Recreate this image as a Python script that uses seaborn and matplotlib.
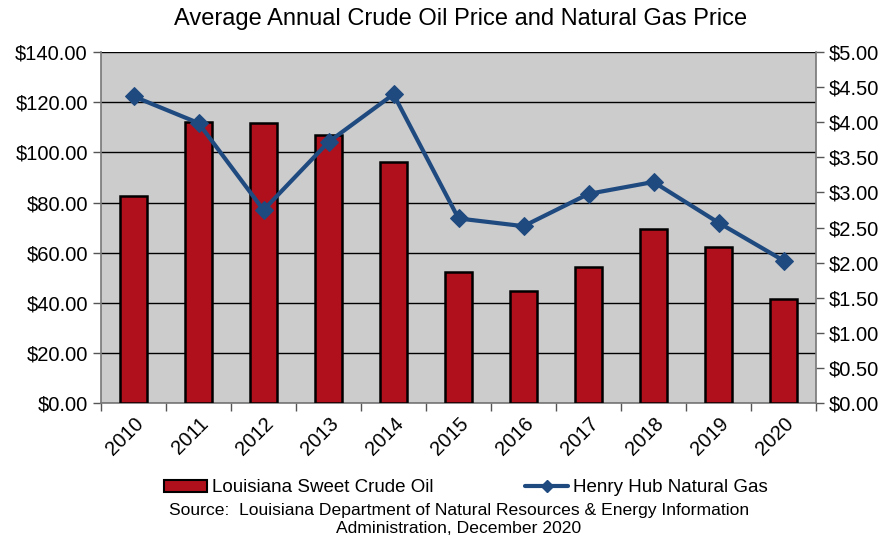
import matplotlib
matplotlib.use("Agg")
import matplotlib.pyplot as plt
import numpy as np
import pandas as pd
import seaborn as sns
from matplotlib.lines import Line2D
from matplotlib.patches import Patch
from matplotlib.ticker import FuncFormatter, MultipleLocator

# data
years = ["2010", "2011", "2012", "2013", "2014", "2015", "2016", "2017", "2018", "2019", "2020"]
crude_oil = [82.6, 112.2, 111.6, 106.9, 96.3, 52.4, 44.8, 54.1, 69.4, 62.4, 41.6]
natural_gas = [4.37, 3.99, 2.75, 3.72, 4.40, 2.63, 2.52, 2.98, 3.15, 2.57, 2.03]

df = pd.DataFrame({"year": years, "oil": crude_oil, "gas": natural_gas})

sns.set_theme(style="white")
plt.rcParams["font.family"] = ["Liberation Sans", "DejaVu Sans"]
plt.rcParams["text.color"] = "black"
plt.rcParams["xtick.color"] = "black"
plt.rcParams["ytick.color"] = "black"

bar_color = "#B0101C"
line_color = "#1F4A80"
money = FuncFormatter(lambda v, p: f"${v:,.2f}")

fig = plt.figure(figsize=(8.86, 5.38), dpi=100)
ax = fig.add_axes([0.114, 0.251, 0.807, 0.652])
ax.set_facecolor("#CCCCCC")

sns.barplot(data=df, x="year", y="oil", color=bar_color, edgecolor="black",
            linewidth=1.8, width=0.42, saturation=1, ax=ax, zorder=3)

ax.set_ylim(0, 140)
ax.set_xlim(-0.5, len(years) - 0.5)
ax.yaxis.set_major_locator(MultipleLocator(20))
ax.yaxis.set_major_formatter(money)
ax.grid(axis="y", color="black", linewidth=1.0, zorder=0)
ax.set_axisbelow(True)
ax.set_xlabel("")
ax.set_ylabel("")

# category boundary ticks like the original
ax.set_xticks(np.arange(-0.5, len(years), 1.0), minor=True)
ax.tick_params(axis="x", which="minor", length=6, width=1, color="#555555", direction="out", bottom=True)
ax.tick_params(axis="x", which="major", length=0, labelsize=14.5, pad=8, labelcolor="black")
ax.tick_params(axis="y", length=6, width=1, color="#555555", direction="out", left=True,
               labelsize=14.5, labelcolor="black")
for lbl in ax.get_xticklabels():
    lbl.set_rotation(45)
    lbl.set_ha("right")
    lbl.set_rotation_mode("anchor")

for side in ["top", "right"]:
    ax.spines[side].set_visible(False)
for side in ["left", "bottom"]:
    ax.spines[side].set_color("#777777")
    ax.spines[side].set_linewidth(1.2)

ax2 = ax.twinx()
sns.lineplot(x=np.arange(len(years)), y=df["gas"], color=line_color, linewidth=3,
             marker="D", markersize=9, markeredgecolor=line_color, ax=ax2, zorder=5)
ax2.set_ylim(0, 5)
ax2.yaxis.set_major_locator(MultipleLocator(0.5))
ax2.yaxis.set_major_formatter(money)
ax2.tick_params(axis="y", length=6, width=1, color="#555555", direction="out", right=True,
                labelsize=14.5, labelcolor="black")
ax2.set_ylabel("")
for side in ["top", "left", "bottom"]:
    ax2.spines[side].set_visible(False)
ax2.spines["right"].set_color("#777777")
ax2.spines["right"].set_linewidth(1.2)

fig.text(0.52, 0.965, "Average Annual Crude Oil Price and Natural Gas Price",
         ha="center", va="center", fontsize=17)

handles = [
    Patch(facecolor=bar_color, edgecolor="black", linewidth=1.5),
    Line2D([0], [0], color=line_color, linewidth=3, marker="D", markersize=6),
]
fig.legend(handles, ["Louisiana Sweet Crude Oil", "Henry Hub Natural Gas"],
           loc="center", bbox_to_anchor=(0.526, 0.093), ncol=2, frameon=False,
           fontsize=13.5, columnspacing=4.9, handlelength=2.3, handleheight=0.6,
           handletextpad=0.25)

fig.text(0.518, 0.052, "Source:  Louisiana Department of Natural Resources & Energy Information",
         ha="center", va="center", fontsize=12.6)
fig.text(0.518, 0.018, "Administration, December 2020", ha="center", va="center", fontsize=12.6)

fig.savefig("out.png", dpi=100)
